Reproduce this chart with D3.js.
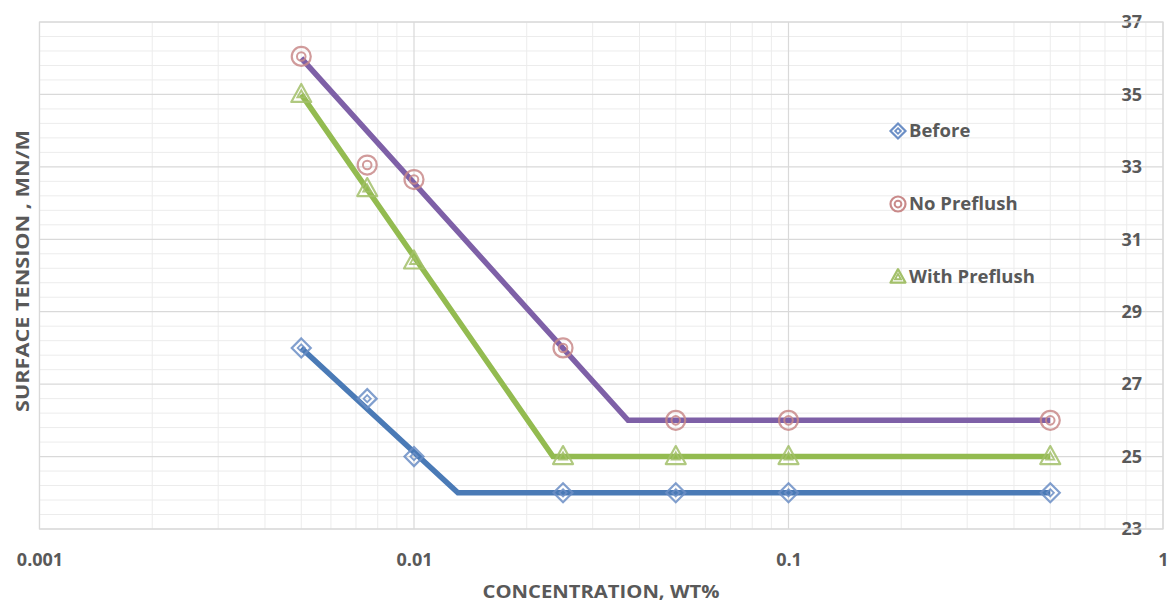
<!DOCTYPE html>
<html><head><meta charset="utf-8">
<script src="https://cdn.jsdelivr.net/npm/d3@7"></script>
<style>body{margin:0;background:#fff}svg{display:block}</style>
</head><body>
<svg id="chart" width="1175" height="603"></svg>
<script>
// ---- data ----
const concentrations = [0.005, 0.0075, 0.01, 0.025, 0.05, 0.1, 0.5];
const beforeValues = [28, 26.6, 25, 24, 24, 24, 24];
const noPreflushValues = [36.05, 33.05, 32.65, 28, 26, 26, 26];
const withPreflushValues = [35, 32.4, 30.4, 25, 25, 25, 25];
const beforeFitX = [0.005, 0.0131, 0.5];
const beforeFitY = [28, 24, 24];
const noPreflushFitX = [0.005, 0.0373, 0.5];
const noPreflushFitY = [36, 26, 26];
const withPreflushFitX = [0.005, 0.0235, 0.5];
const withPreflushFitY = [35, 25, 25];
const xTickValues = [0.001, 0.01, 0.1, 1];
const xTickLabels = ["0.001", "0.01", "0.1", "1"];
const yTickValues = [23, 25, 27, 29, 31, 33, 35, 37];
const seriesNames = ["Before", "No Preflush", "With Preflush"];

const svg = d3.select("#chart");
const L = 39.5, R = 1163, T = 22, B = 529;
const x = d3.scaleLog().domain([0.001, 1]).range([L, R]);
const y = d3.scaleLinear().domain([23, 37]).range([B, T]);
const txt = "#595959";
const font = "'Open Sans', sans-serif";

// minor gridlines
const minorX = [];
[0.001, 0.01, 0.1].forEach(d => { for (let k = 2; k <= 9; k++) minorX.push(d * k); });
const minorY = d3.range(23, 37.001, 0.4).filter(v => Math.abs((v - 23) / 2 - Math.round((v - 23) / 2)) > 1e-6);
const g = svg.append("g");
g.selectAll(".mx").data(minorX).enter().append("line")
  .attr("x1", d => x(d)).attr("x2", d => x(d)).attr("y1", T).attr("y2", B)
  .attr("stroke", "#ececec").attr("stroke-width", 1);
g.selectAll(".my").data(minorY).enter().append("line")
  .attr("x1", L).attr("x2", R).attr("y1", d => y(d)).attr("y2", d => y(d))
  .attr("stroke", "#ececec").attr("stroke-width", 1);
g.selectAll(".Mx").data(xTickValues).enter().append("line")
  .attr("x1", d => x(d)).attr("x2", d => x(d)).attr("y1", T).attr("y2", B)
  .attr("stroke", "#d9d9d9").attr("stroke-width", 1.2);
g.selectAll(".My").data(yTickValues).enter().append("line")
  .attr("x1", L).attr("x2", R).attr("y1", d => y(d)).attr("y2", d => y(d))
  .attr("stroke", "#d9d9d9").attr("stroke-width", 1.2);

// axes via d3
const xAxis = d3.axisBottom(x).tickValues(xTickValues).tickFormat((d, i) => xTickLabels[i]).tickSize(0).tickPadding(24);
const xa = svg.append("g").attr("transform", `translate(0,${B})`).call(xAxis);
xa.select(".domain").remove();
xa.selectAll("text").attr("font-family", font).attr("font-weight", "700").attr("font-size", 18).attr("fill", txt);

const yAxis = d3.axisLeft(y).tickValues(yTickValues).tickSize(0).tickPadding(0);
const ya = svg.append("g").attr("transform", `translate(1142,0)`).call(yAxis);
ya.select(".domain").remove();
ya.selectAll("text").attr("font-family", font).attr("font-weight", "700").attr("font-size", 18).attr("fill", txt);

// titles
svg.append("text").attr("x", 601).attr("y", 598).attr("text-anchor", "middle")
  .attr("font-family", font).attr("font-weight", "700").attr("font-size", 17).attr("fill", txt)
  .attr("textLength", 237).attr("lengthAdjust", "spacingAndGlyphs")
  .text("CONCENTRATION, WT%");
svg.append("text").attr("transform", "translate(29,271) rotate(-90)").attr("text-anchor", "middle")
  .attr("font-family", font).attr("font-weight", "700").attr("font-size", 17).attr("fill", txt)
  .attr("textLength", 282).attr("lengthAdjust", "spacingAndGlyphs")
  .text("SURFACE TENSION , MN/M");

// fit lines
const line = d3.line().x(d => x(d[0])).y(d => y(d[1]));
const fits = [
  {xs: beforeFitX, ys: beforeFitY, color: "#4a7ab6"},
  {xs: withPreflushFitX, ys: withPreflushFitY, color: "#93bb50"},
  {xs: noPreflushFitX, ys: noPreflushFitY, color: "#7e60a7"}
];
fits.forEach(f => {
  svg.append("path").datum(f.xs.map((v, i) => [v, f.ys[i]]))
    .attr("d", line).attr("fill", "none").attr("stroke", f.color).attr("stroke-width", 5.5)
    .attr("stroke-linejoin", "miter");
});

// markers
function diamond(sel, cx, cy, s, c) {
  const p = (r) => `M${cx},${cy - r}L${cx + r},${cy}L${cx},${cy + r}L${cx - r},${cy}Z`;
  sel.append("path").attr("d", p(s)).attr("fill", "none").attr("stroke", c).attr("stroke-width", 2.2);
  sel.append("path").attr("d", p(s * 0.38)).attr("fill", "none").attr("stroke", c).attr("stroke-width", 1.8);
}
function circ(sel, cx, cy, s, c) {
  sel.append("circle").attr("cx", cx).attr("cy", cy).attr("r", s).attr("fill", "none").attr("stroke", c).attr("stroke-width", 2.2);
  sel.append("circle").attr("cx", cx).attr("cy", cy).attr("r", s * 0.45).attr("fill", "none").attr("stroke", c).attr("stroke-width", 2);
}
function tri(sel, cx, cy, s, c) {
  const p = (r) => `M${cx},${cy - r * 1.05}L${cx + r},${cy + r * 0.75}L${cx - r},${cy + r * 0.75}Z`;
  sel.append("path").attr("d", p(s)).attr("fill", "none").attr("stroke", c).attr("stroke-width", 2.2).attr("stroke-linejoin", "round");
  sel.append("path").attr("d", p(s * 0.4)).attr("fill", "none").attr("stroke", c).attr("stroke-width", 1.8);
}
const mk = svg.append("g").attr("opacity", 0.85);
const series = [
  {vals: beforeValues, draw: diamond, size: 9.5, color: "#6c8fc6"},
  {vals: noPreflushValues, draw: circ, size: 9.5, color: "#c98a8a"},
  {vals: withPreflushValues, draw: tri, size: 10, color: "#a3c06a"}
];
series.forEach(s => {
  concentrations.forEach((c, i) => s.draw(mk, x(c), y(s.vals[i]), s.size, s.color));
});

// legend
const legendY = [131, 204, 277];
series.forEach((s, i) => {
  s.draw(svg, 898, legendY[i], 7.5, s.color);
  svg.append("text").attr("x", 909).attr("y", legendY[i]).attr("dy", "0.35em")
    .attr("font-family", font).attr("font-weight", "700").attr("font-size", 18.5).attr("fill", txt)
    .text(seriesNames[i]);
});

// plot border
svg.append("rect").attr("x", L).attr("y", T).attr("width", R - L).attr("height", B - T)
  .attr("fill", "none").attr("stroke", "#d9d9d9").attr("stroke-width", 1.2);
</script>
</body></html>
